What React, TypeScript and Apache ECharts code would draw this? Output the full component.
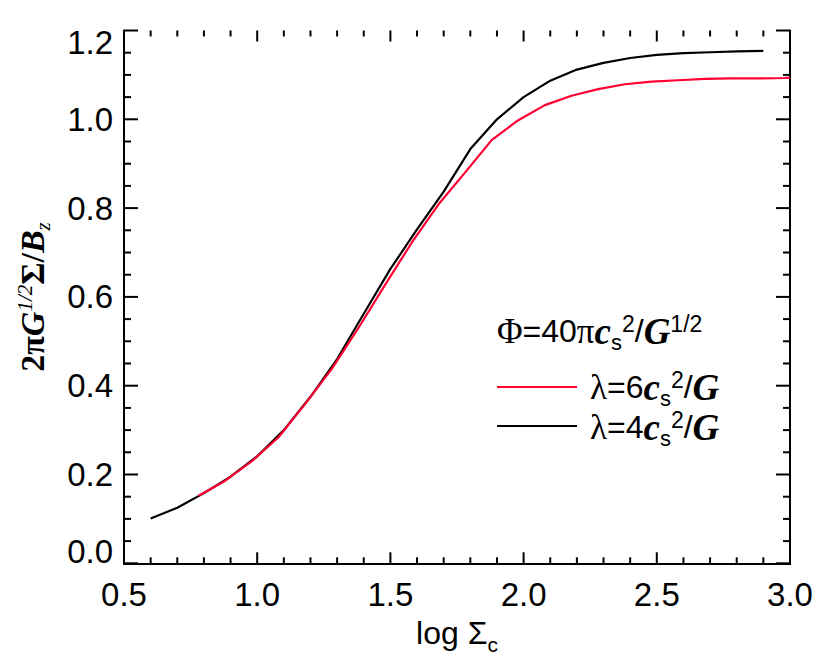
import React, { useEffect, useRef } from "react";
import * as echarts from "echarts";

// log Sigma_c sampling for the lambda = 4 cs^2/G run (black)
const xBlack = [0.6, 0.7, 0.8, 0.9, 1.0, 1.1, 1.2, 1.3, 1.4, 1.5, 1.6, 1.7, 1.8, 1.9, 2.0, 2.1, 2.2, 2.3, 2.4, 2.5, 2.6, 2.7, 2.8, 2.9];
const yBlack = [0.101, 0.125, 0.158, 0.195, 0.241, 0.300, 0.375, 0.460, 0.562, 0.663, 0.752, 0.837, 0.933, 1.000, 1.050, 1.087, 1.112, 1.127, 1.138, 1.145, 1.149, 1.151, 1.153, 1.154];

// lambda = 6 cs^2/G run (red)
const xRed = [0.78, 0.88, 0.98, 1.08, 1.18, 1.28, 1.38, 1.48, 1.58, 1.68, 1.78, 1.88, 1.98, 2.08, 2.18, 2.28, 2.38, 2.48, 2.58, 2.68, 2.78, 2.88, 2.98, 3.0];
const yRed = [0.152, 0.186, 0.230, 0.284, 0.359, 0.438, 0.530, 0.627, 0.722, 0.808, 0.880, 0.953, 0.998, 1.032, 1.053, 1.068, 1.079, 1.085, 1.088, 1.091, 1.092, 1.092, 1.093, 1.094];

// frame tick positions (major every 0.5 / 0.2, minor every 0.1 / 0.05)
const xTicks = [0.5, 0.6, 0.7, 0.8, 0.9, 1.0, 1.1, 1.2, 1.3, 1.4, 1.5, 1.6, 1.7, 1.8, 1.9, 2.0, 2.1, 2.2, 2.3, 2.4, 2.5, 2.6, 2.7, 2.8, 2.9, 3.0];
const yTicks = [0, 0.05, 0.1, 0.15, 0.2, 0.25, 0.3, 0.35, 0.4, 0.45, 0.5, 0.55, 0.6, 0.65, 0.7, 0.75, 0.8, 0.85, 0.9, 0.95, 1.0, 1.05, 1.1, 1.15, 1.2];

const X_MIN = 0.5, X_MAX = 3.0, X_MAJOR = 0.5;
const Y_MIN = 0, Y_MAX = 1.2, Y_MAJOR = 0.2;

const RED = "#ff0033";
const SANS = "Liberation Sans, Arial, Helvetica, sans-serif";
const SERIF = "Liberation Serif, Times New Roman, serif";

const richBase = (color: string) => ({
  sym: { fontFamily: SERIF, fontSize: 35, lineHeight: 44, color },
  n: { fontFamily: SANS, fontSize: 32, lineHeight: 44, color },
  it: { fontFamily: SERIF, fontSize: 37, fontWeight: "bold", fontStyle: "italic", lineHeight: 44, color },
  sub: { fontFamily: SANS, fontSize: 22, lineHeight: 22, verticalAlign: "bottom", color },
  sup: { fontFamily: SANS, fontSize: 23, lineHeight: 23, padding: [3, 0, 0, 0], verticalAlign: "top", color },
});

const ls = () => ({ color: "#000", width: 2 });
const isMajor = (v: number, step: number) => Math.abs(v / step - Math.round(v / step)) < 1e-6;

export default function App() {
  const ref = useRef<HTMLDivElement>(null);
  useEffect(() => {
    if (!ref.current) return;
    const chart = echarts.init(ref.current, undefined, { renderer: "svg" });
    const xAx = (pos: string, labels: boolean) => ({
      type: "value",
      min: X_MIN,
      max: X_MAX,
      interval: X_MAJOR,
      position: pos,
      axisLine: { show: true, lineStyle: ls() },
      axisTick: { show: false },
      minorTick: { show: false },
      splitLine: { show: false },
      axisLabel: labels
        ? { show: true, fontFamily: SANS, fontSize: 33, color: "#000", margin: 15, formatter: (v: number) => v.toFixed(1) }
        : { show: false },
    });
    const yAx = (pos: string, labels: boolean) => ({
      type: "value",
      min: Y_MIN,
      max: Y_MAX,
      interval: Y_MAJOR,
      position: pos,
      axisLine: { show: true, onZero: false, lineStyle: ls() },
      axisTick: { show: false },
      minorTick: { show: false },
      splitLine: { show: false },
      axisLabel: labels
        ? {
            show: true,
            fontFamily: SANS,
            fontSize: 33,
            lineHeight: 24,
            color: "#000",
            margin: 11,
            verticalAlignMinLabel: "bottom",
            verticalAlignMaxLabel: "top",
            formatter: (v: number) => v.toFixed(1),
          }
        : { show: false },
    });
    const tickData = [...xTicks.map((v) => [0, v]), ...yTicks.map((v) => [1, v])];
    chart.setOption({
      animation: false,
      backgroundColor: "#fff",
      grid: { left: 124, right: 40, top: 30.5, bottom: 99.7 },
      xAxis: [
        {
          ...xAx("bottom", true),
          name: "{a|log Σ}{s|c}",
          nameLocation: "middle",
          nameGap: 48,
          nameTextStyle: {
            rich: {
              a: { fontFamily: SANS, fontSize: 32, lineHeight: 44, color: "#000" },
              s: { fontFamily: SANS, fontSize: 21, lineHeight: 21, verticalAlign: "bottom", color: "#000" },
            },
          },
        },
        xAx("top", false),
      ],
      yAxis: [yAx("left", true), yAx("right", false)],
      graphic: [
        {
          type: "text",
          x: 32,
          y: 297,
          rotation: Math.PI / 2,
          style: {
            text: "{b|2π}{bi|G}{sup|1/2}{b|Σ/}{bi|B}{sub|z}",
            align: "center",
            verticalAlign: "middle",
            rich: {
              b: { fontFamily: SERIF, fontSize: 34, fontWeight: "bold", lineHeight: 42, color: "#000" },
              bi: { fontFamily: SERIF, fontSize: 34, fontWeight: "bold", fontStyle: "italic", lineHeight: 42, color: "#000" },
              sup: { fontFamily: SERIF, fontSize: 21, fontStyle: "italic", lineHeight: 21, padding: [3, 0, 0, 0], verticalAlign: "top", color: "#000" },
              sub: { fontFamily: SERIF, fontSize: 21, fontStyle: "italic", lineHeight: 21, verticalAlign: "bottom", color: "#000" },
            },
          },
        },
        {
          type: "text",
          x: 497,
          y: 331,
          style: {
            text: "{sym|Φ}{n|=40}{sym|π}{it|c}{sub|s}{sup|2}{n|/}{it|G}{sup|1/2}",
            align: "left",
            verticalAlign: "middle",
            rich: richBase("#000"),
          },
        },
        {
          type: "line",
          shape: { x1: 497, y1: 387, x2: 577, y2: 387 },
          style: { stroke: RED, lineWidth: 2.2 },
        },
        {
          type: "text",
          x: 590,
          y: 387,
          style: {
            text: "{sym|λ}{n|=6}{it|c}{sub|s}{sup|2}{n|/}{it|G}",
            align: "left",
            verticalAlign: "middle",
            rich: richBase(RED),
          },
        },
        {
          type: "line",
          shape: { x1: 497, y1: 426, x2: 577, y2: 426 },
          style: { stroke: "#000", lineWidth: 2.2 },
        },
        {
          type: "text",
          x: 590,
          y: 427,
          style: {
            text: "{sym|λ}{n|=4}{it|c}{sub|s}{sup|2}{n|/}{it|G}",
            align: "left",
            verticalAlign: "middle",
            rich: richBase("#000"),
          },
        },
      ],
      series: [
        {
          name: "λ=4cs²/G",
          type: "line",
          showSymbol: false,
          data: xBlack.map((x, i) => [x, yBlack[i]]),
          lineStyle: { color: "#000", width: 2.2 },
          itemStyle: { color: "#000" },
        },
        {
          name: "λ=6cs²/G",
          type: "line",
          showSymbol: false,
          data: xRed.map((x, i) => [x, yRed[i]]),
          lineStyle: { color: RED, width: 2.2 },
          itemStyle: { color: RED },
        },
        {
          name: "frame ticks",
          type: "custom",
          silent: true,
          clip: false,
          z: 3,
          data: tickData,
          renderItem: (_params: any, api: any) => {
            const kind = api.value(0);
            const v = api.value(1);
            const st = { stroke: "#000", lineWidth: 2 };
            if (kind === 0) {
              const len = isMajor(v - X_MIN, X_MAJOR) ? 11 : 6;
              const b = api.coord([v, Y_MIN]);
              const t = api.coord([v, Y_MAX]);
              return {
                type: "group",
                children: [
                  { type: "line", shape: { x1: b[0], y1: b[1], x2: b[0], y2: b[1] - len }, style: st },
                  { type: "line", shape: { x1: t[0], y1: t[1], x2: t[0], y2: t[1] + len }, style: st },
                ],
              };
            }
            const len = isMajor(v - Y_MIN, Y_MAJOR) ? 14 : 7;
            const l = api.coord([X_MIN, v]);
            const r = api.coord([X_MAX, v]);
            return {
              type: "group",
              children: [
                { type: "line", shape: { x1: l[0], y1: l[1], x2: l[0] + len, y2: l[1] }, style: st },
                { type: "line", shape: { x1: r[0], y1: r[1], x2: r[0] - len, y2: r[1] }, style: st },
              ],
            };
          },
        },
      ],
    });
    return () => chart.dispose();
  }, []);
  return (
    <div
      ref={ref}
      style={{ position: "absolute", left: 0, top: 0, width: 830, height: 663, background: "#fff" }}
    />
  );
}
